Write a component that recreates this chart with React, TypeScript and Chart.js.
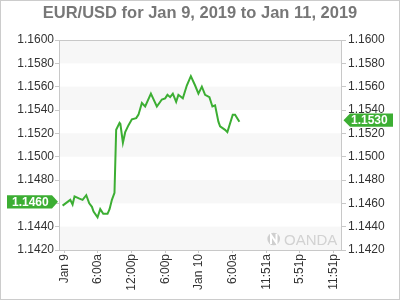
import React, { useEffect, useRef } from "react";
import { Chart, registerables } from "chart.js";

Chart.register(...registerables);

const titleText = "EUR/USD for Jan 9, 2019 to Jan 11, 2019";
const xTickHours = [0, 6, 12, 18, 24, 30, 36, 42, 48];
const xTickLabels = ["Jan 9", "6:00a", "12:00p", "6:00p", "Jan 10", "6:00a", "11:51a", "5:51p", "11:51p"];
const hours = [
  -0.3, 1.07, 1.48, 1.83, 2.7, 3.26, 3.92, 4.45, 4.93, 5.22, 5.93, 6.41, 6.95, 7.71, 8.07, 8.49, 8.95,
  9.25, 9.85, 10.0, 10.45, 10.86, 11.45, 12.05, 12.82, 13.23, 13.83, 14.42, 15.44, 16.5, 17.39, 17.98,
  18.39, 18.87, 19.35, 19.94, 20.34, 21.13, 21.84, 22.56, 23.32, 23.91, 24.52, 25.1, 25.87, 26.4, 26.88,
  27.47, 27.77, 28.66, 29.07, 30.03, 30.44, 31.21,
];
const rates = [
  1.1458, 1.1463, 1.1459, 1.1466, 1.1464, 1.1463, 1.1467, 1.146, 1.1457, 1.1453, 1.1448, 1.1455, 1.1451,
  1.1451, 1.1455, 1.1463, 1.1469, 1.1523, 1.1529, 1.1528, 1.1512, 1.1521, 1.1527, 1.1532, 1.1533, 1.1536,
  1.1546, 1.1543, 1.1554, 1.1543, 1.1549, 1.155, 1.1553, 1.1551, 1.1554, 1.1547, 1.1553, 1.155, 1.1561,
  1.1569, 1.1561, 1.1554, 1.156, 1.1553, 1.1551, 1.1543, 1.1544, 1.153, 1.1526, 1.1523, 1.1521, 1.1536,
  1.1536, 1.153,
];
const openLabel = 1.146;
const lastLabel = 1.153;

const GREEN = "#3cae33";
const FONT = "'Liberation Sans', Arial, sans-serif";

const decorPlugin = {
  id: "decor",
  beforeDatasetsDraw(chart: any) {
    const { ctx, chartArea: a, scales } = chart;
    const y = scales.y;
    ctx.save();
    // bands
    ctx.fillStyle = "#f7f7f7";
    const ticks = y.ticks.map((t: any) => t.value);
    for (let i = 0; i < ticks.length - 1; i++) {
      const v = ticks[i];
      const idx = Math.round((v - 1.142) / 0.002);
      if (idx % 2 === 0) {
        const y1 = y.getPixelForValue(v);
        const y2 = y.getPixelForValue(ticks[i + 1]);
        ctx.fillRect(a.left, Math.min(y1, y2), a.right - a.left, Math.abs(y2 - y1));
      }
    }
    // watermark
    ctx.fillStyle = "#cfcfcf";
    ctx.beginPath();
    ctx.arc(273.7, 239, 6.3, 0, Math.PI * 2);
    ctx.fill();
    ctx.strokeStyle = "#ffffff";
    ctx.lineWidth = 2;
    ctx.beginPath();
    ctx.moveTo(271, 244);
    ctx.lineTo(271, 235);
    ctx.lineTo(276.5, 243);
    ctx.lineTo(276.5, 234);
    ctx.stroke();
    ctx.fillStyle = "#d2d2d2";
    ctx.font = `15px ${FONT}`;
    ctx.textBaseline = "alphabetic";
    ctx.textAlign = "left";
    ctx.fillText("OANDA", 284, 244.5);
    ctx.restore();
  },
  afterDraw(chart: any) {
    const { ctx, chartArea: a, scales } = chart;
    const y = scales.y;
    ctx.save();
    // plot border
    ctx.strokeStyle = "#c8c8c8";
    ctx.lineWidth = 1;
    ctx.strokeRect(Math.round(a.left) + 0.5, Math.round(a.top) + 0.5, Math.round(a.right - a.left) - 1, Math.round(a.bottom - a.top));
    // outer border
    ctx.strokeStyle = "#cccccc";
    ctx.strokeRect(0.5, 0.5, chart.width - 1, chart.height - 1);
    // title
    ctx.fillStyle = "#777777";
    ctx.font = `bold 16.5px ${FONT}`;
    ctx.textAlign = "center";
    ctx.textBaseline = "alphabetic";
    ctx.fillText(titleText, 200, 17.5);
    // left label
    const yl = y.getPixelForValue(openLabel) - 1.5;
    ctx.fillStyle = GREEN;
    ctx.beginPath();
    ctx.moveTo(7, yl - 6.7);
    ctx.lineTo(52, yl - 6.7);
    ctx.lineTo(58, yl);
    ctx.lineTo(52, yl + 6.7);
    ctx.lineTo(7, yl + 6.7);
    ctx.closePath();
    ctx.fill();
    ctx.fillStyle = "#ffffff";
    ctx.font = `bold 12px ${FONT}`;
    ctx.textAlign = "left";
    ctx.textBaseline = "middle";
    ctx.fillText(openLabel.toFixed(4), 12, yl + 0.5);
    // right label
    const yr = y.getPixelForValue(lastLabel) - 1.5;
    ctx.fillStyle = GREEN;
    ctx.beginPath();
    ctx.moveTo(343.5, yr);
    ctx.lineTo(350, yr - 6.7);
    ctx.lineTo(393, yr - 6.7);
    ctx.lineTo(393, yr + 6.7);
    ctx.lineTo(350, yr + 6.7);
    ctx.closePath();
    ctx.fill();
    ctx.fillStyle = "#ffffff";
    ctx.fillText(lastLabel.toFixed(4), 351, yr + 0.5);
    ctx.restore();
  },
};

export default function App() {
  const ref = useRef<HTMLCanvasElement>(null);
  useEffect(() => {
    document.body.style.margin = "0";
    const canvas = ref.current!;
    const chart = new Chart(canvas, {
      type: "line",
      data: {
        datasets: [
          {
            data: hours.map((h, i) => ({ x: h, y: rates[i] })),
            borderColor: GREEN,
            borderWidth: 2,
            pointRadius: 0,
            tension: 0,
            fill: false,
          },
        ],
      },
      options: {
        animation: false,
        responsive: false,
        maintainAspectRatio: false,
        layout: { padding: { top: 40, left: 0, right: 0, bottom: 0 } },
        plugins: { legend: { display: false }, tooltip: { enabled: false }, title: { display: false } },
        scales: {
          x: {
            type: "linear",
            min: -0.94,
            max: 49.5,
            afterBuildTicks: (s: any) => {
              s.ticks = xTickHours.map((v) => ({ value: v }));
            },
            afterFit: (s: any) => {
              s.height = 50;
            },
            grid: { drawOnChartArea: false, drawTicks: true, tickLength: 3, color: "#c8c8c8" },
            border: { display: false },
            ticks: {
              autoSkip: false,
              maxRotation: 90,
              minRotation: 90,
              padding: 1,
              color: "#333333",
              font: { family: FONT, size: 12 },
              callback: (v: any) => {
                const i = xTickHours.indexOf(Number(v));
                return i >= 0 ? xTickLabels[i] : "";
              },
            },
          },
          y: {
            position: "left",
            min: 1.142,
            max: 1.16,
            afterFit: (s: any) => {
              s.width = 59;
            },
            grid: { drawOnChartArea: false, drawTicks: true, tickLength: 4, color: "#c8c8c8" },
            border: { display: false },
            ticks: {
              stepSize: 0.002,
              padding: 1,
              color: "#333333",
              font: { family: FONT, size: 12 },
              callback: (v: any) => Number(v).toFixed(4),
            },
          },
          y2: {
            position: "right",
            min: 1.142,
            max: 1.16,
            afterFit: (s: any) => {
              s.width = 58;
            },
            grid: { drawOnChartArea: false, drawTicks: true, tickLength: 4, color: "#c8c8c8" },
            border: { display: false },
            ticks: {
              stepSize: 0.002,
              padding: 2,
              color: "#333333",
              font: { family: FONT, size: 12 },
              callback: (v: any) => Number(v).toFixed(4),
            },
          },
        },
      },
      plugins: [decorPlugin],
    } as any);
    return () => chart.destroy();
  }, []);
  return <canvas ref={ref} width={400} height={300} style={{ display: "block", width: 400, height: 300 }} />;
}
